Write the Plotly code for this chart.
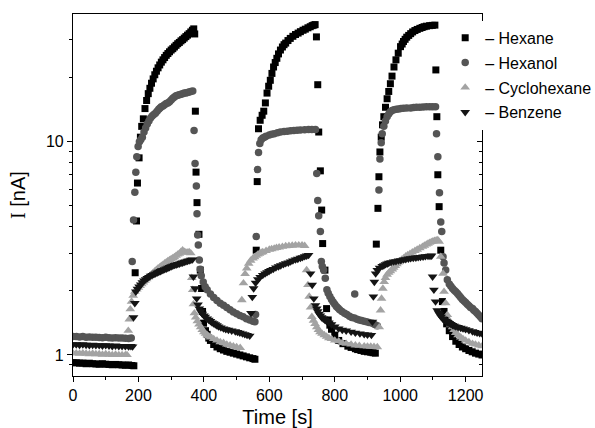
import plotly.graph_objects as go

# ---- data: (time [s], current [nA]) ----
HEXANE = [
(0,0.92),(10,0.92),(20,0.915),(30,0.917),(40,0.91),(50,0.915),(60,0.91),(70,0.908),(80,0.905),(90,0.91),(100,0.905),(110,0.903),(120,0.9),(130,0.903),(140,0.9),(150,0.898),(160,0.895),(170,0.898),(180,0.893),(186,0.89),
(190,2.43),(194,4.25),(197,6.4),(202,8.4),(206,10.5),(210,11.8),(215,12.8),(220,14.3),(225,15.6),(230,16.8),(235,17.8),(240,18.8),(245,19.7),(250,20.6),(255,21.4),(260,22.2),(265,22.9),(270,23.6),(275,24.2),(280,24.8),(285,25.4),(290,25.9),(295,26.4),(300,26.9),(305,27.3),(310,27.8),(315,28.3),(320,28.8),(325,29.2),(330,29.7),(335,30.1),(340,30.6),(345,31.1),(350,31.6),(355,32.1),(360,32.7),(365,33.3),(369,33.8),
(372,32.0),(374,13.9),(376,7.2),(379,5.18),(385,3.68),(389,2.5),(393,2.05),(396,1.6),(399,1.41),(405,1.3),(410,1.25),(415,1.2),(420,1.17),(430,1.12),(440,1.09),(450,1.07),(460,1.055),(470,1.04),(480,1.03),(490,1.02),(500,1.01),(510,1.0),(520,0.99),(530,0.98),(540,0.97),(550,0.962),(556,0.955),
(560,3.1),(563,6.5),(567,11.5),(572,12.6),(578,13.3),(583,13.9),(588,15.2),(593,16.9),(598,18.2),(603,19.4),(608,20.9),(613,22.4),(618,23.5),(623,24.6),(628,25.8),(634,26.9),(640,27.8),(645,28.5),(650,29.0),(657,29.8),(664,30.5),(672,31.2),(680,31.8),(688,32.3),(695,32.8),(703,33.3),(710,33.7),(718,34.2),(725,34.6),(731,35.0),(736,35.2),(740,35.4),
(744,31.0),(748,18.5),(751,11.1),(756,7.3),(760,4.78),(763,3.33),(770,2.5),(775,1.65),(780,1.46),(785,1.38),(790,1.32),(800,1.24),(812,1.17),(825,1.13),(840,1.1),(850,1.085),(863,1.07),(870,1.06),(880,1.05),(890,1.04),(900,1.035),(910,1.03),(917,1.025),(924,1.02),
(927,3.31),(932,4.87),(935,6.85),(938,8.95),(942,10.5),(946,12.0),(950,13.1),(955,14.5),(960,15.9),(965,17.2),(970,18.7),(975,20.3),(981,22.4),(987,24.2),(994,26.0),(1001,27.9),(1006,28.7),(1010,29.5),(1015,30.2),(1020,30.9),(1026,31.5),(1032,32.1),(1038,32.7),(1045,33.2),(1052,33.6),(1060,34.0),(1067,34.3),(1073,34.6),(1080,34.8),(1090,35.0),(1098,35.1),(1106,35.2),
(1109,21.7),(1112,13.1),(1115,7.0),(1119,4.96),(1124,3.1),(1129,1.78),(1134,1.6),(1138,1.48),(1142,1.4),(1150,1.3),(1160,1.22),(1170,1.16),(1180,1.12),(1190,1.09),(1200,1.07),(1210,1.05),(1220,1.035),(1230,1.02),(1240,1.01),(1250,1.0),
]

HEXANOL = [
(0,1.22),(10,1.22),(20,1.215),(30,1.22),(40,1.212),(50,1.215),(60,1.21),(70,1.21),(80,1.208),(90,1.205),(100,1.21),(110,1.205),(120,1.2),(130,1.205),(140,1.2),(150,1.2),(160,1.198),(170,1.195),(178,1.2),
(181,2.74),(185,4.3),(189,5.8),(192,7.2),(195,8.5),(199,9.5),(203,10.0),(207,10.2),(212,10.5),(217,11.1),(222,11.6),(227,12.1),(232,12.5),(237,12.9),(242,13.2),(247,13.4),(252,13.6),(257,13.9),(262,14.2),(266,14.4),(270,14.6),(275,14.7),(280,14.9),(285,15.1),(290,15.2),(295,15.4),(300,15.7),(305,16.0),(310,16.2),(315,16.4),(320,16.5),(325,16.6),(330,16.7),(335,16.8),(340,16.9),(345,16.9),(350,17.0),(355,17.1),(360,17.2),(366,17.3),
(370,11.3),(373,7.9),(377,6.2),(379,4.6),(381,3.65),(383,3.28),(386,2.79),(389,2.52),(392,2.35),(398,2.2),(404,2.09),(410,2.02),(420,1.93),(430,1.86),(440,1.8),(450,1.75),(460,1.71),(470,1.67),(480,1.63),(490,1.59),(500,1.56),(510,1.53),(520,1.51),(530,1.48),(540,1.46),(550,1.44),(556,1.43),
(558,1.55),(560,3.59),(564,7.4),(567,8.9),(571,9.8),(575,10.2),(580,10.4),(585,10.5),(590,10.6),(600,10.75),(607,10.85),(615,10.9),(625,11.0),(634,11.1),(645,11.15),(655,11.2),(665,11.25),(675,11.3),(685,11.32),(695,11.35),(708,11.38),(720,11.4),(730,11.4),(741,11.4),
(745,7.1),(748,5.3),(751,4.5),(756,3.79),(759,2.74),(762,2.6),(766,2.5),(771,2.29),(776,2.02),(780,1.95),(785,1.88),(790,1.82),(795,1.77),(800,1.73),(805,1.69),(810,1.66),(815,1.63),(822,1.6),(830,1.57),(837,1.55),(845,1.52),(852,1.5),(860,1.49),(861,1.93),(868,1.47),(875,1.46),(882,1.45),(890,1.44),(897,1.43),(905,1.42),(915,1.41),(922,1.39),(930,1.37),
(935,5.93),(938,8.3),(942,9.9),(945,10.9),(950,11.8),(955,12.5),(960,13.1),(965,13.5),(970,13.8),(975,14.0),(981,14.1),(988,14.2),(995,14.25),(1002,14.3),(1010,14.35),(1020,14.38),(1032,14.4),(1041,14.45),(1050,14.5),(1060,14.52),(1070,14.55),(1080,14.57),(1090,14.6),(1099,14.6),(1108,14.6),
(1111,10.9),(1115,8.5),(1120,5.77),(1124,4.2),(1127,3.79),(1131,2.89),(1134,2.7),(1139,2.5),(1144,2.25),(1150,2.15),(1155,2.1),(1160,2.05),(1165,2.01),(1170,1.98),(1175,1.94),(1180,1.9),(1185,1.86),(1190,1.82),(1195,1.79),(1200,1.76),(1205,1.73),(1210,1.7),(1215,1.67),(1221,1.65),(1225,1.62),(1230,1.6),(1235,1.57),(1240,1.54),(1245,1.51),(1250,1.48),
]

CYCLOHEXANE = [
(0,1.02),(10,1.02),(20,1.015),(30,1.02),(40,1.015),(50,1.01),(60,1.015),(70,1.01),(80,1.01),(90,1.005),(100,1.01),(110,1.005),(120,1.0),(130,1.005),(140,1.0),(150,1.0),(160,1.0),(165,1.0),
(169,1.3),(172,1.47),(175,1.64),(179,1.78),(184,1.9),(189,1.98),(195,2.03),(200,2.07),(205,2.11),(210,2.15),(215,2.19),(220,2.23),(225,2.27),(230,2.31),(235,2.35),(240,2.39),(245,2.43),(250,2.47),(255,2.51),(260,2.55),(265,2.58),(270,2.62),(275,2.65),(280,2.69),(285,2.72),(290,2.76),(295,2.79),(300,2.82),(305,2.85),(310,2.88),(315,2.92),(320,2.96),(325,2.99),(330,3.05),(335,3.1),(340,3.05),(345,3.03),(350,3.02),(355,3.04),(360,3.0),
(363,2.3),(366,2.02),(368,1.73),(371,1.57),(375,1.5),(380,1.44),(385,1.39),(390,1.35),(395,1.31),(400,1.28),(405,1.26),(410,1.24),(415,1.225),(420,1.21),(430,1.19),(440,1.17),(450,1.15),(460,1.14),(470,1.12),(480,1.11),(490,1.1),(500,1.09),(511,1.08),
(516,1.81),(521,2.17),(526,2.4),(531,2.55),(537,2.68),(543,2.77),(550,2.84),(555,2.88),(560,2.92),(565,2.96),(570,2.99),(575,3.02),(580,3.04),(590,3.08),(600,3.12),(607,3.14),(615,3.16),(622,3.18),(630,3.2),(640,3.22),(650,3.24),(660,3.25),(670,3.26),(680,3.27),(690,3.27),(700,3.27),(708,3.25),
(714,2.5),(718,2.13),(722,1.88),(726,1.67),(730,1.51),(735,1.45),(740,1.4),(745,1.35),(750,1.31),(755,1.28),(761,1.26),(768,1.24),(775,1.22),(782,1.2),(790,1.19),(800,1.17),(812,1.16),(823,1.14),(835,1.13),(850,1.12),(863,1.11),(875,1.105),(890,1.1),(900,1.097),(910,1.095),(920,1.092),(930,1.09),
(936,1.35),(940,1.62),(943,1.84),(947,2.05),(951,2.2),(955,2.3),(960,2.38),(965,2.43),(970,2.47),(976,2.52),(980,2.57),(985,2.62),(990,2.67),(995,2.72),(1000,2.76),(1005,2.8),(1011,2.85),(1017,2.9),(1023,2.94),(1030,2.98),(1037,3.03),(1045,3.08),(1052,3.12),(1060,3.17),(1068,3.22),(1074,3.26),(1080,3.3),(1085,3.33),(1090,3.36),(1095,3.39),(1100,3.41),(1105,3.43),(1110,3.45),(1115,3.46),(1119,3.4),
(1124,2.89),(1131,2.41),(1134,1.98),(1139,1.75),(1144,1.54),(1150,1.45),(1155,1.39),(1160,1.35),(1165,1.31),(1170,1.27),(1177,1.24),(1185,1.21),(1192,1.19),(1200,1.17),(1210,1.15),(1221,1.13),(1230,1.12),(1240,1.11),(1250,1.1),
]

BENZENE = [
(0,1.12),(10,1.12),(20,1.115),(30,1.12),(40,1.115),(50,1.11),(60,1.115),(70,1.11),(80,1.11),(90,1.105),(100,1.11),(110,1.105),(120,1.1),(130,1.105),(140,1.1),(150,1.1),(160,1.1),(170,1.095),(177,1.1),(182,1.095),
(185,1.5),(189,1.75),(192,1.98),(197,2.04),(202,2.09),(207,2.14),(212,2.19),(217,2.23),(222,2.26),(227,2.29),(232,2.32),(237,2.35),(242,2.37),(247,2.39),(252,2.41),(257,2.43),(262,2.45),(267,2.47),(271,2.49),(275,2.5),(280,2.52),(285,2.54),(290,2.56),(295,2.58),(300,2.6),(305,2.62),(310,2.64),(315,2.65),(320,2.67),(325,2.68),(330,2.7),(335,2.71),(340,2.73),(345,2.74),(350,2.76),(355,2.77),(360,2.79),(365,2.8),
(368,2.33),(373,2.05),(378,1.84),(382,1.72),(386,1.65),(390,1.6),(395,1.56),(400,1.53),(404,1.51),(410,1.48),(415,1.46),(420,1.44),(425,1.42),(430,1.405),(435,1.39),(440,1.375),(445,1.36),(452,1.345),(460,1.33),(467,1.32),(475,1.31),(485,1.3),(496,1.29),(503,1.28),(510,1.27),(518,1.26),(525,1.25),(532,1.24),(540,1.23),
(544,1.57),(548,1.87),(552,2.05),(558,2.18),(565,2.26),(572,2.32),(580,2.37),(587,2.41),(593,2.44),(599,2.47),(605,2.5),(612,2.53),(620,2.57),(628,2.6),(635,2.63),(643,2.66),(650,2.69),(658,2.71),(665,2.74),(672,2.77),(680,2.8),(687,2.82),(695,2.85),(701,2.87),(708,2.9),(714,2.92),(720,2.94),
(726,2.41),(731,2.13),(736,1.84),(741,1.71),(745,1.65),(748,1.6),(752,1.56),(756,1.53),(760,1.5),(765,1.48),(770,1.46),(775,1.44),(782,1.42),(790,1.39),(800,1.36),(812,1.33),(823,1.31),(835,1.3),(850,1.285),(863,1.27),(877,1.26),(890,1.25),(900,1.245),(912,1.24),
(915,1.43),(918,1.88),(921,2.2),(925,2.41),(930,2.5),(937,2.56),(945,2.61),(950,2.63),(955,2.66),(960,2.68),(965,2.7),(972,2.72),(980,2.74),(987,2.75),(995,2.77),(1002,2.78),(1010,2.8),(1017,2.81),(1025,2.83),(1032,2.84),(1040,2.85),(1048,2.86),(1055,2.87),(1062,2.88),(1070,2.89),(1077,2.9),(1085,2.91),(1091,2.915),(1096,2.92),
(1099,2.33),(1103,2.02),(1108,1.78),(1113,1.62),(1117,1.58),(1120,1.55),(1125,1.51),(1130,1.48),(1135,1.46),(1140,1.44),(1145,1.425),(1150,1.41),(1155,1.395),(1160,1.38),(1165,1.37),(1170,1.36),(1177,1.35),(1185,1.34),(1192,1.33),(1200,1.32),(1210,1.305),(1221,1.29),(1228,1.28),(1235,1.27),(1243,1.265),(1250,1.26),
]

SERIES_NAMES = ["Hexane", "Hexanol", "Cyclohexane", "Benzene"]
X_TICKS = [0, 200, 400, 600, 800, 1000, 1200]
X_MINOR = [100, 300, 500, 700, 900, 1100]
Y_TICKS = [1, 10]
Y_TICK_TEXT = ["1", "10"]
Y_MINOR = [0.9, 2, 3, 4, 5, 6, 7, 8, 9, 20, 30]

styles = {
    "Hexane": dict(symbol="square", color="#000000", size=7),
    "Hexanol": dict(symbol="circle", color="#555555", size=7.5),
    "Cyclohexane": dict(symbol="triangle-up", color="#a3a3a3", size=8.5),
    "Benzene": dict(symbol="triangle-down", color="#141414", size=8.5),
}
data = {"Hexane": HEXANE, "Hexanol": HEXANOL, "Cyclohexane": CYCLOHEXANE, "Benzene": BENZENE}

FONT = "Arial, Liberation Sans, sans-serif"
fig = go.Figure()
for name in SERIES_NAMES:
    t = [p[0] for p in data[name]]
    v = [p[1] for p in data[name]]
    st = styles[name]
    fig.add_trace(go.Scatter(
        x=t, y=v, mode="markers", name="\u2013 " + name, legendgroup=name,
        marker=dict(symbol=st["symbol"], color=st["color"], size=st["size"], line=dict(width=0)),
    ))

# helper trace for the right-hand (mirrored, inward-tick) axis
fig.add_trace(go.Scatter(x=[], y=[], yaxis="y2", showlegend=False, hoverinfo="skip"))

yrange = [-0.0985, 1.5987]
fig.update_layout(
    template="none",
    width=595, height=428,
    margin=dict(l=73, r=113, t=14, b=52, autoexpand=False),
    paper_bgcolor="white", plot_bgcolor="white",
    font=dict(family=FONT, color="black", size=16),
    showlegend=True,
    legend=dict(x=0.91, y=0.981, xanchor="left", yanchor="top", bgcolor="white",
                font=dict(family=FONT, size=16, color="black"),
                traceorder="grouped", tracegroupgap=1, itemwidth=30, borderwidth=0),
    xaxis=dict(range=[0, 1250], tickvals=X_TICKS, ticks="outside", ticklen=5, tickwidth=1,
               tickcolor="black", showline=True, linecolor="black", linewidth=1.2, mirror=True,
               showgrid=False, zeroline=False, tickfont=dict(size=16), automargin=False,
               minor=dict(tickvals=X_MINOR, ticks="outside", ticklen=3, tickcolor="black", showgrid=False),
               title=dict(text="Time [s]", font=dict(size=20), standoff=6)),
    yaxis=dict(type="log", range=yrange, tickvals=Y_TICKS, ticktext=Y_TICK_TEXT, ticks="outside",
               ticklen=5, tickwidth=1, tickcolor="black", showline=True, linecolor="black",
               linewidth=1.2, mirror=True, showgrid=False, zeroline=False, tickfont=dict(size=16),
               automargin=False,
               minor=dict(tickvals=Y_MINOR, ticks="outside", ticklen=3, tickcolor="black", showgrid=False),
               title=dict(text="<span style='font-family:Liberation Serif'>I</span> [nA]",
                          font=dict(size=20), standoff=14)),
    yaxis2=dict(type="log", range=yrange, overlaying="y", side="right", tickvals=Y_TICKS,
                ticks="inside", ticklen=5, tickcolor="black", showticklabels=False, automargin=False,
                showline=False, showgrid=False, zeroline=False,
                minor=dict(tickvals=Y_MINOR, ticks="inside", ticklen=3, tickcolor="black", showgrid=False)),
)

fig.write_html("out.html", config={"displayModeBar": False},
               post_script="document.body.style.margin='0px';document.body.style.padding='0px';")
